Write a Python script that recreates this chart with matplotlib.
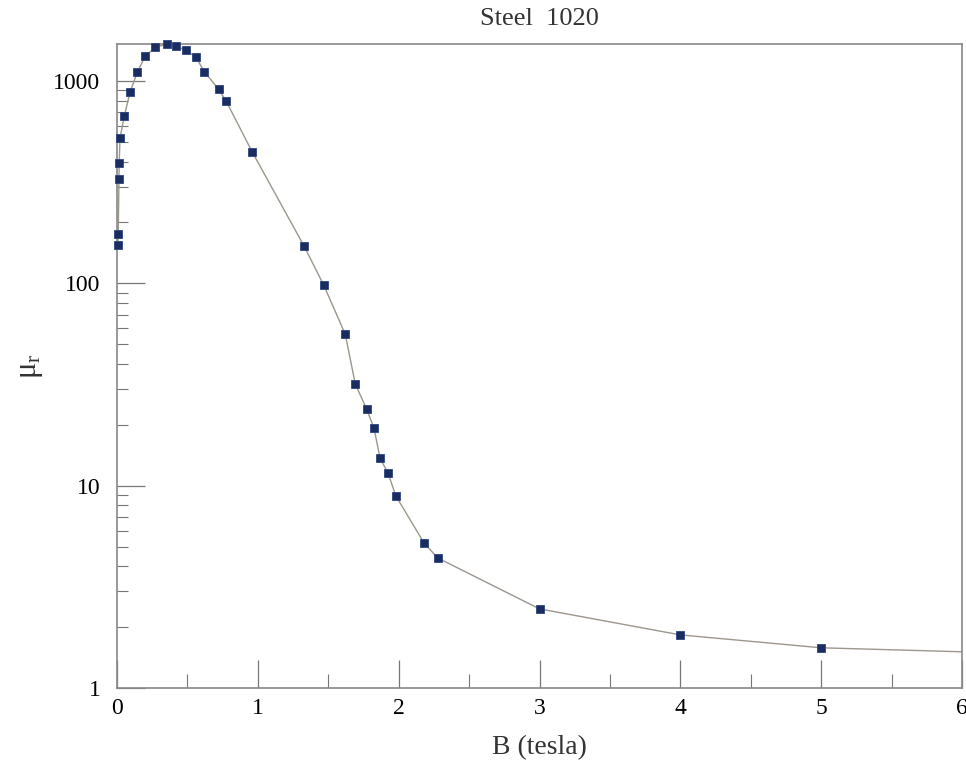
import matplotlib
matplotlib.use("Agg")
import matplotlib.pyplot as plt
import numpy as np
from matplotlib.ticker import FixedLocator, FuncFormatter, LogLocator, NullFormatter

# Data: relative permeability of steel 1020 vs flux density
B = [0.005, 0.009, 0.014, 0.016, 0.021, 0.052, 0.094, 0.144, 0.20, 0.272,
     0.353, 0.419, 0.492, 0.561, 0.62, 0.722, 0.776, 0.959, 1.328, 1.468,
     1.621, 1.692, 1.773, 1.825, 1.868, 1.925, 1.98, 2.18, 2.278, 3.0,
     4.0, 5.0, 6.0]
mu_r = [154, 175, 328, 392, 521, 672, 887, 1105, 1326, 1469,
        1520, 1486, 1420, 1311, 1113, 911, 794, 448, 153, 98,
        56, 31.8, 23.9, 19.2, 13.7, 11.5, 8.9, 5.21, 4.39, 2.46,
        1.83, 1.58, 1.51]

x_ticks = [0, 1, 2, 3, 4, 5, 6]
y_ticks = [1, 10, 100, 1000]

plt.rcParams["font.family"] = ["Liberation Serif", "DejaVu Serif"]
plt.rcParams["mathtext.fontset"] = "custom"
plt.rcParams["mathtext.rm"] = "Liberation Serif"
plt.rcParams["mathtext.it"] = "Liberation Serif:italic"

fig = plt.figure(figsize=(9.66, 7.64), dpi=100)
ax = fig.add_axes([0.1211, 0.0995, 0.8748, 0.8429])

ax.plot(B, mu_r, color="#9c968c", lw=1.0, zorder=2)
ax.plot(B[:-1], mu_r[:-1], ls="none", marker="s", ms=6.2,
        mfc="#1b2d60", mec="#2a4680", mew=0.6, zorder=3, clip_on=False)

ax.set_yscale("log")
ax.set_xlim(0, 6)
ax.set_ylim(1, 1525)

ax.xaxis.set_major_locator(FixedLocator(x_ticks))
ax.xaxis.set_minor_locator(FixedLocator(np.arange(0.5, 6, 1.0)))
ax.yaxis.set_major_locator(FixedLocator(y_ticks))
ax.yaxis.set_minor_locator(LogLocator(base=10, subs=np.arange(2, 10)))
ax.yaxis.set_major_formatter(FuncFormatter(lambda v, p: f"{v:g}"))
ax.yaxis.set_minor_formatter(NullFormatter())

ax.tick_params(axis="both", which="both", direction="in", color="#777777",
               labelsize=17, top=False, right=False)
ax.tick_params(axis="x", which="major", length=20, width=0.9, pad=7)
ax.tick_params(axis="x", which="minor", length=10, width=0.8)
ax.tick_params(axis="y", which="major", length=20, width=0.9, pad=12)
ax.tick_params(axis="y", which="minor", length=8, width=0.8)

for s in ax.spines.values():
    s.set_color("#888888")
    s.set_linewidth(1.2)

ax.set_xlabel("B (tesla)", fontsize=20, labelpad=12, color="#333333")
ax.set_ylabel("μ$_\\mathrm{r}$", fontsize=22, labelpad=6, color="#333333")
ax.set_title("Steel  1020", fontsize=19, pad=14, color="#333333")

fig.savefig("out.png", dpi=100)
